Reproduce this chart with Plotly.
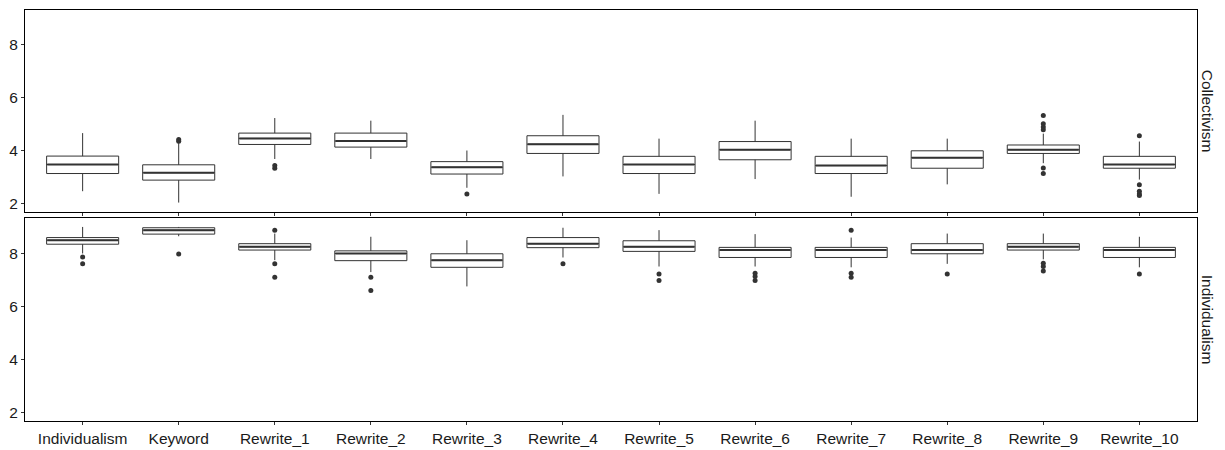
import plotly.graph_objects as go
from plotly.subplots import make_subplots

categories = ["Individualism", "Keyword", "Rewrite_1", "Rewrite_2", "Rewrite_3", "Rewrite_4",
              "Rewrite_5", "Rewrite_6", "Rewrite_7", "Rewrite_8", "Rewrite_9", "Rewrite_10"]
panels = ["Collectivism", "Individualism"]

# Collectivism panel
col_lower = [2.46, 2.03, 3.68, 3.68, 2.59, 3.02, 2.36, 2.92, 2.25, 2.72, 3.52, 2.90]
col_q1 = [3.13, 2.88, 4.23, 4.13, 3.11, 3.89, 3.13, 3.65, 3.13, 3.33, 3.89, 3.33]
col_median = [3.47, 3.16, 4.46, 4.36, 3.37, 4.24, 3.47, 4.03, 3.43, 3.73, 4.03, 3.47]
col_q3 = [3.79, 3.46, 4.66, 4.66, 3.58, 4.56, 3.78, 4.34, 3.78, 3.99, 4.21, 3.78]
col_upper = [4.66, 4.28, 5.23, 5.13, 4.00, 5.35, 4.45, 5.13, 4.45, 4.45, 4.64, 4.34]
col_outliers = [[], [4.42, 4.35], [3.43, 3.33], [], [2.35], [], [], [], [], [],
                [5.33, 5.01, 4.89, 4.79, 3.34, 3.13], [4.56, 2.70, 2.46, 2.35, 2.30]]

# Individualism panel
ind_lower = [8.00, 8.65, 7.75, 7.30, 6.76, 7.85, 7.51, 7.51, 7.48, 7.61, 7.78, 7.48]
ind_q1 = [8.35, 8.73, 8.13, 7.73, 7.48, 8.22, 8.08, 7.85, 7.85, 7.99, 8.13, 7.85]
ind_median = [8.50, 8.88, 8.25, 8.00, 7.75, 8.37, 8.25, 8.13, 8.13, 8.13, 8.25, 8.13]
ind_q3 = [8.60, 8.97, 8.37, 8.10, 7.99, 8.60, 8.48, 8.23, 8.23, 8.37, 8.37, 8.23]
ind_upper = [9.00, 9.00, 8.75, 8.63, 8.50, 8.97, 8.88, 8.73, 8.60, 8.75, 8.75, 8.63]
ind_outliers = [[7.87, 7.61], [7.98], [8.88, 7.61, 7.11], [7.11, 6.61], [], [7.61],
                [7.23, 6.98], [7.26, 7.13, 6.98], [8.88, 7.26, 7.11], [7.23],
                [7.63, 7.51, 7.34], [7.23]]

yticks = [2, 4, 6, 8]

fig = make_subplots(rows=2, cols=1, shared_xaxes=True, vertical_spacing=0.0168)

data = [
    (col_lower, col_q1, col_median, col_q3, col_upper, col_outliers),
    (ind_lower, ind_q1, ind_median, ind_q3, ind_upper, ind_outliers),
]

line_col = "#333333"
for r, (lo, q1, med, q3, up, outs) in enumerate(data, start=1):
    fig.add_trace(go.Box(
        x=categories, q1=q1, median=med, q3=q3, lowerfence=lo, upperfence=up,
        fillcolor="white", line=dict(color=line_col, width=1), width=0.75,
        whiskerwidth=0, boxpoints=False, showlegend=False, hoverinfo="skip",
    ), row=r, col=1)
    # thicker median line
    fig.add_trace(go.Scatter(
        x=categories, y=med, mode="markers",
        marker=dict(symbol="line-ew", size=50.5, line=dict(color=line_col, width=2)),
        showlegend=False, hoverinfo="skip",
    ), row=r, col=1)
    ox, oy = [], []
    for c, vals in zip(categories, outs):
        for v in vals:
            ox.append(c)
            oy.append(v)
    fig.add_trace(go.Scatter(
        x=ox, y=oy, mode="markers",
        marker=dict(symbol="circle", size=5, color=line_col),
        showlegend=False, hoverinfo="skip",
    ), row=r, col=1)

font = dict(family="Liberation Sans, Arial, sans-serif", size=15.5, color="#1a1a1a")

for r in (1, 2):
    fig.update_yaxes(range=[1.69, 9.32], tickvals=yticks, ticks="outside", ticklen=3,
                     tickcolor=line_col, showgrid=False, zeroline=False,
                     showline=True, linecolor="black", linewidth=1, mirror=True,
                     tickfont=font, row=r, col=1)
    fig.update_xaxes(range=[-0.6, 11.6], ticks="outside", ticklen=3, tickcolor=line_col,
                     showgrid=False, zeroline=False, showline=True, linecolor="black",
                     linewidth=1, mirror=True, tickfont=font, row=r, col=1)

fig.update_yaxes(domain=[0.5096, 1.0], row=1, col=1)
fig.update_yaxes(domain=[0.0, 0.4928], row=2, col=1)

for i, name in enumerate(panels):
    dom = [0.5096, 1.0] if i == 0 else [0.0, 0.4928]
    fig.add_annotation(text=name, xref="paper", yref="paper", x=1.0, xshift=10,
                       y=(dom[0] + dom[1]) / 2, textangle=90, showarrow=False,
                       font=font, xanchor="center", yanchor="middle")

fig.update_layout(
    width=1215, height=440,
    margin=dict(l=17, r=26, t=1, b=23),
    paper_bgcolor="white", plot_bgcolor="white",
    font=font,
)

fig.write_html("out.html")
